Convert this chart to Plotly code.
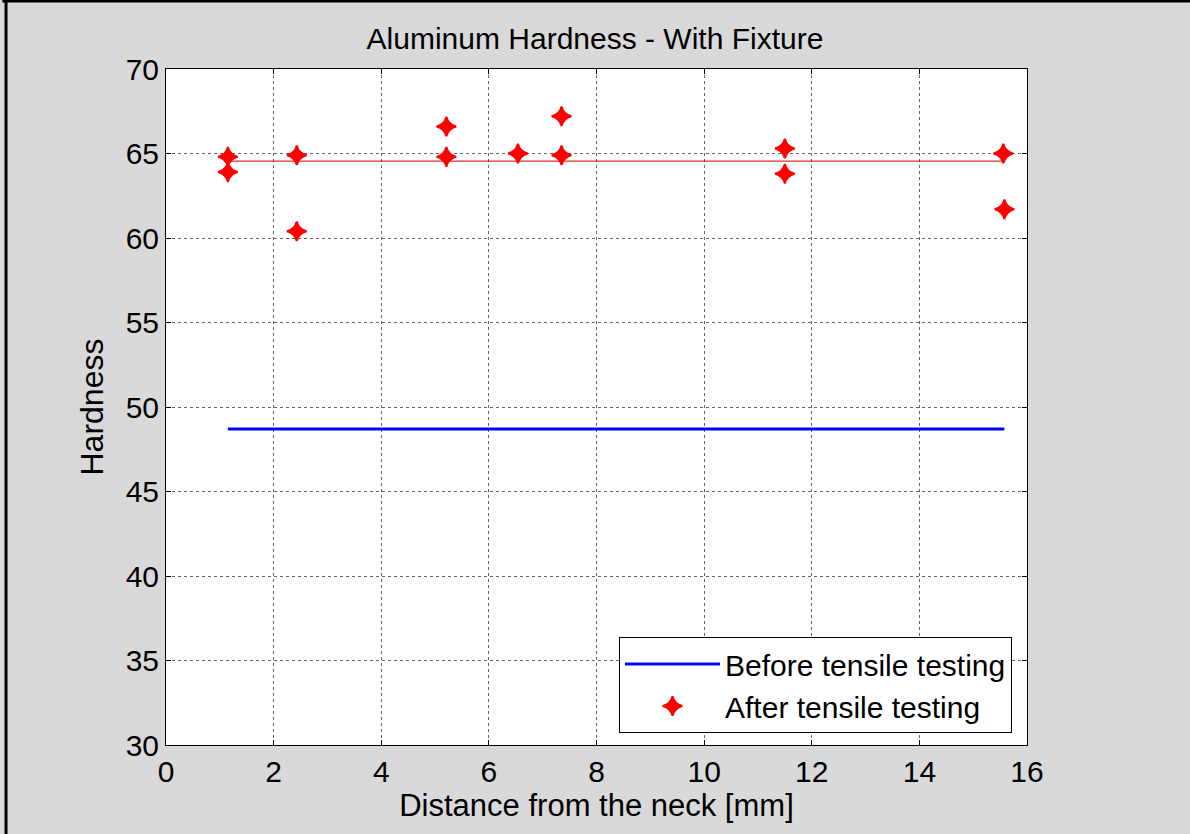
import plotly.graph_objects as go

# Data
after_x = [1.15, 1.15, 2.43, 2.43, 5.21, 5.21, 6.54, 7.35, 7.35, 11.5, 11.5, 15.56, 15.58]
after_y = [64.8, 63.9, 64.9, 60.4, 66.6, 64.8, 65.0, 67.2, 64.9, 65.3, 63.8, 65.0, 61.7]
before_x = [1.15, 15.58]
before_y = [48.7, 48.7]
mean_x = [1.15, 15.58]
mean_y = [64.55, 64.55]

x_ticks = [0, 2, 4, 6, 8, 10, 12, 14, 16]
y_ticks = [30, 35, 40, 45, 50, 55, 60, 65, 70]

FONT = "Liberation Sans, Arial, sans-serif"

fig = go.Figure()
fig.add_trace(go.Scatter(
    x=before_x, y=before_y, mode="lines",
    line=dict(color="#0000ff", width=3),
    name="Before tensile testing",
))
fig.add_trace(go.Scatter(
    x=mean_x, y=mean_y, mode="lines",
    line=dict(color="#cc0000", width=1),
    showlegend=False, hoverinfo="skip",
))
fig.add_trace(go.Scatter(
    x=after_x, y=after_y, mode="markers",
    marker=dict(color="#ff0000", symbol="star-diamond", size=14,
                line=dict(color="#ff0000", width=2)),
    name="After tensile testing",
))

axis_common = dict(
    showline=True, linecolor="black", linewidth=1, mirror="ticks",
    ticks="inside", ticklen=5, tickcolor="black",
    showgrid=True, gridcolor="#666666", gridwidth=1, griddash="dot",
    zeroline=False,
    tickfont=dict(family=FONT, size=30, color="black"),
)

fig.update_xaxes(range=[0, 16], tickvals=x_ticks,
                 title=dict(text="Distance from the neck [mm]",
                            font=dict(family=FONT, size=31, color="black"),
                            standoff=6),
                 **axis_common)
fig.update_yaxes(range=[30, 70], tickvals=y_ticks,
                 title=dict(text="Hardness",
                            font=dict(family=FONT, size=32, color="black"),
                            standoff=12),
                 **axis_common)

fig.update_layout(
    width=1190, height=834,
    margin=dict(l=166, r=163, t=69, b=89),
    paper_bgcolor="#d9d9d9",
    plot_bgcolor="white",
    font=dict(family=FONT, color="black"),
    title=dict(text="Aluminum Hardness - With Fixture",
               font=dict(family=FONT, size=30, color="black"),
               x=0.5, xanchor="center", y=1 - 38 / 834, yanchor="middle"),
    legend=dict(
        x=0.9826, y=0.0178, xanchor="right", yanchor="bottom",
        bgcolor="white", bordercolor="black", borderwidth=1,
        font=dict(family=FONT, size=30, color="black"),
        itemwidth=95, tracegroupgap=0,
    ),
    showlegend=True,
    shapes=[
        dict(type="line", xref="paper", yref="paper",
             x0=-0.1858, x1=-0.1858, y0=-0.14, y1=1.102,
             line=dict(color="black", width=3)),
        dict(type="line", xref="paper", yref="paper",
             x0=-0.19, x1=1.19, y0=1.1006, y1=1.1006,
             line=dict(color="black", width=3)),
    ],
)

fig.write_html("out.html",
               config={"displayModeBar": False},
               post_script="document.body.style.margin='0';document.body.style.overflow='hidden';")
